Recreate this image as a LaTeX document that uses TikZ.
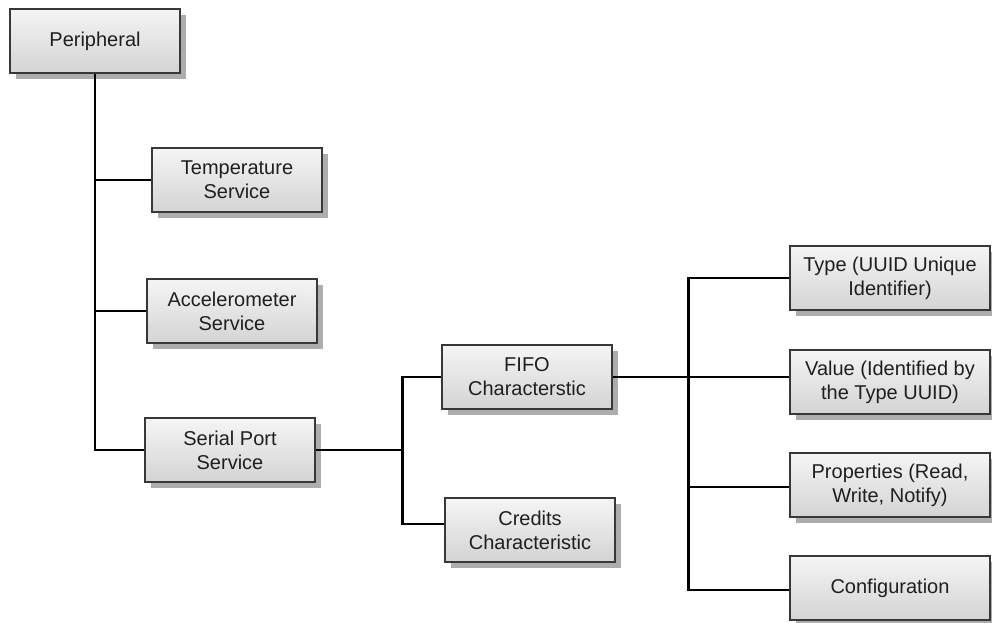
\documentclass[tikz,border=0pt]{standalone}
\usepackage{fontspec}
\setmainfont{Liberation Sans}
\usepackage{tikz}
\usetikzlibrary{positioning,shadows}

\begin{document}
\begin{tikzpicture}[
                    line width=2.8pt,
                    on grid,
                    box/.style={rectangle, draw=black!78, line width=2.6pt,
                        top color=black!4, bottom color=black!17,
                        drop shadow={shadow xshift=6pt, shadow yshift=-6pt,
                            fill=black!32, opacity=1},
                        minimum width=170pt, minimum height=64pt,
                        align=center, text=black!88,
                        font=\fontsize{20}{24}\selectfont},
                    wide/.style={minimum width=200pt}
                ]
                \useasboundingbox (0,0) rectangle (992pt,-622pt);

                \begin{scope}[
                        every node/.style={box}
                    ]
                    \node[] (periph) at (95pt,-41pt) {Peripheral} ;
                    \node[] (temp) [below right=139pt and 142pt of periph] {Temperature\\Service} ;
                    \node[] (accel) [below left=131pt and 5pt of temp] {Accelerometer\\Service} ;
                    \node[] (serial) [below left=139pt and 2pt of accel] {Serial Port\\Service} ;
                    \node[] (fifo) [above right=73pt and 297pt of serial] {FIFO\\Characterstic} ;
                    \node[] (credits) [below right=153pt and 3pt of fifo] {Credits\\Characteristic} ;
                    \node[wide] (value) [below right=5pt and 363pt of fifo] {Value (Identified by\\the Type UUID)} ;
                    \node[wide] (type) [above=104pt of value] {Type (UUID Unique\\Identifier)} ;
                    \node[wide] (props) [below=103pt of value] {Properties (Read,\\Write, Notify)} ;
                    \node[wide] (config) [below=103pt of props] {Configuration} ;
                \end{scope}

                % joints of the tree
                \coordinate (sjoint) at ([xshift=86pt]serial.east) ;
                \coordinate (fjoint) at ([xshift=75pt]fifo.east) ;

                \draw
                (periph.south) |- (temp.west)
                (periph.south) |- (accel.west)
                (periph.south) |- (serial.west)
                (serial.east) -- (sjoint)
                (sjoint) |- (fifo.west)
                (sjoint) |- ([yshift=6pt]credits.west)
                (fifo.east) -- (fifo.east -| value.west)
                (fjoint) |- (type.west)
                (fjoint) |- ([yshift=-2pt]props.west)
                (fjoint) |- ([yshift=-2pt]config.west)
                ;
            \end{tikzpicture}
\end{document}
